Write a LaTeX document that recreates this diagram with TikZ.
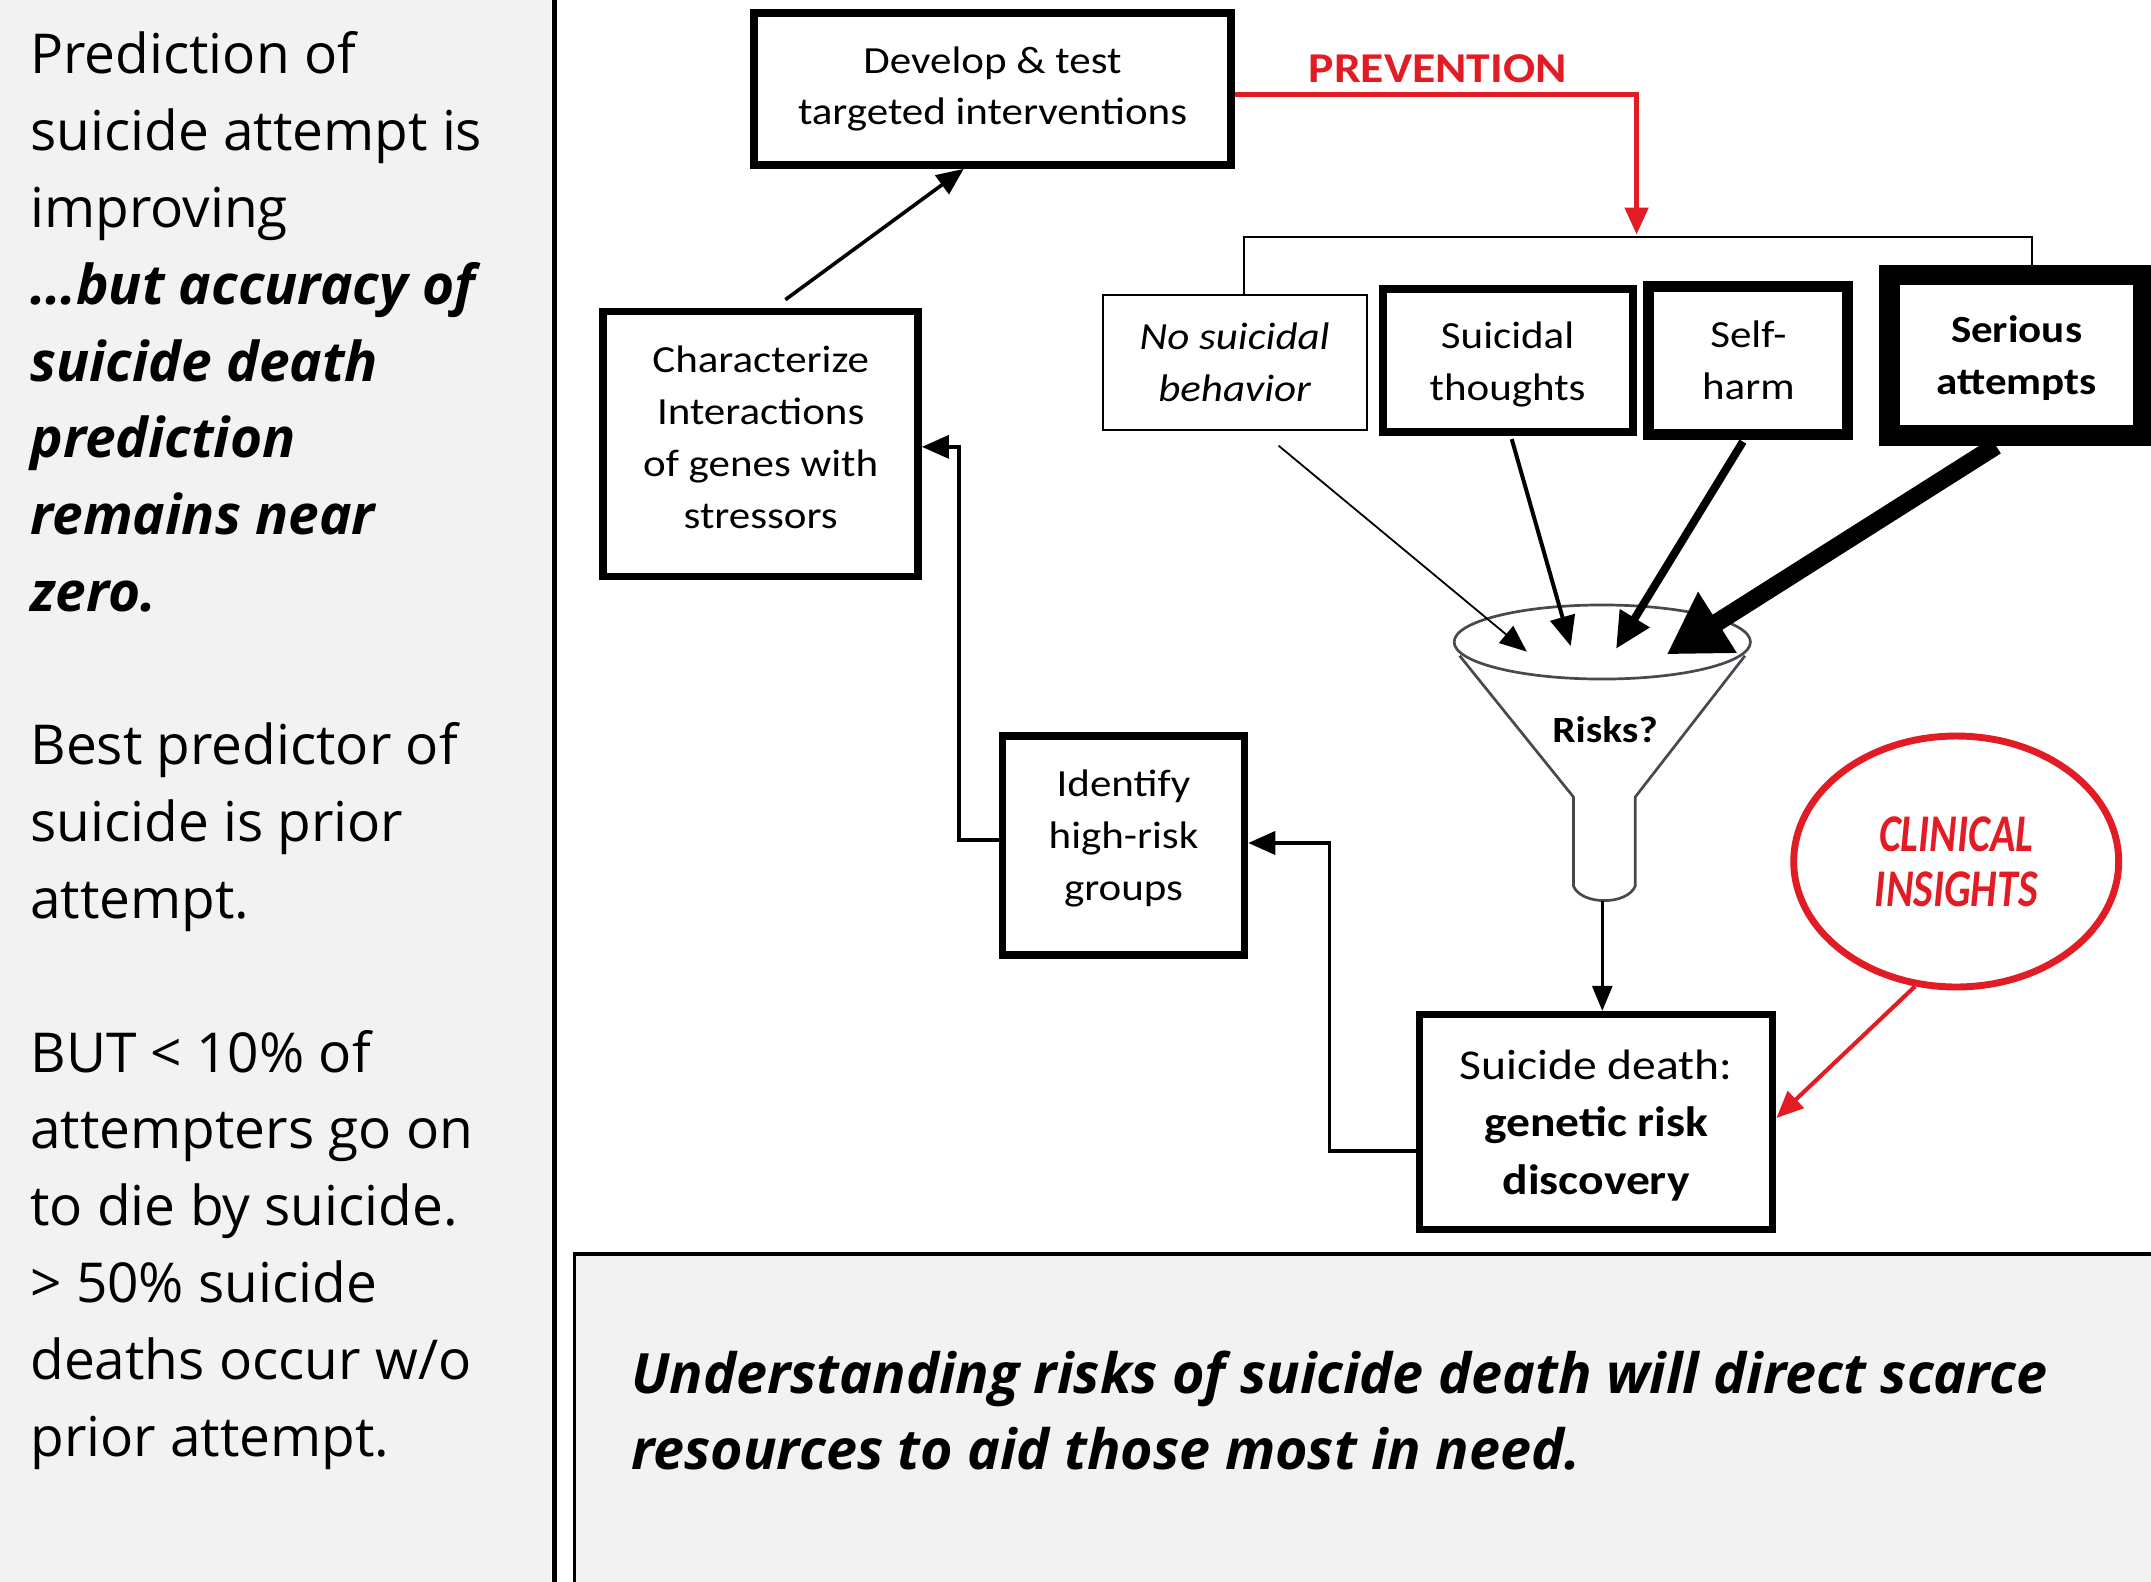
\documentclass[tikz,border=0pt]{standalone}
\usepackage{fontspec}
\setmainfont{Open Sans}
\newfontfamily\boxfont[FakeStretch=1.12]{Carlito}
\newfontfamily\insightfont{Carlito}
\usetikzlibrary{arrows.meta,calc,shapes.geometric}
\definecolor{panelgray}{HTML}{F2F2F2}
\definecolor{alertred}{RGB}{226,28,36}
\definecolor{funnelgray}{HTML}{464A4F}
\begin{document}
\begin{tikzpicture}[x=1.372pt,y=-1.372pt,
    stepbox/.style={draw,fill=white,line width=7.5pt,align=center,inner sep=0pt,
      font=\boxfont\fontsize{38.4}{52}\selectfont},
    conn/.style={line width=3.6pt,-{Triangle[length=27pt,width=23pt]}},
    redconn/.style={alertred,line width=4.8pt,-{Triangle[length=27pt,width=23pt]}}]
  \useasboundingbox (0,0) rectangle (1568,1153);
  \fill[white] (0,0) rectangle (1568,1153);
  \fill[panelgray] (0,0) rectangle (402,1153);
  \draw[line width=4.8pt] (404,0) -- (404,1153);
  \draw[fill=panelgray,line width=2.7pt] (419,914) rectangle (1580,1170);
  \draw[line width=4.5pt] (418,914) -- (1580,914);
  \node (leftnote) [anchor=north west,align=left,inner sep=0pt,
    font=\fontsize{55}{76.8}\selectfont] at (22,23)
    {Prediction of\\suicide attempt is\\improving\\
     \textbf{\textit{…but accuracy of}}\\
     \textbf{\textit{suicide death}}\\
     \textbf{\textit{prediction}}\\
     \textbf{\textit{remains near}}\\
     \textbf{\textit{zero.}}\\[76.8pt]
     Best predictor of\\suicide is prior\\attempt.\\[76.8pt]
     BUT < 10\% of\\attempters go on\\to die by suicide.\\
     > 50\% suicide\\deaths occur w/o\\prior attempt.};
  \node (bottomnote) [anchor=north west,align=left,inner sep=0pt,
    font=\bfseries\itshape\fontsize{55.6}{75.5}\selectfont] at (460,985)
    {Understanding risks of suicide death will direct scarce\\
     resources to aid those most in need.};
  \node (dev) [stepbox,minimum width=477pt,minimum height=152pt,
    font=\boxfont\fontsize{38.4}{51}\selectfont] at (723.5,65)
    {Develop \& test\\targeted interventions};
  \node (charact) [stepbox,minimum width=315pt,minimum height=265pt,text depth=13.7pt] at (554.5,323.75)
    {Characterize\\Interactions\\of genes with\\stressors};
  \node (ident) [stepbox,minimum width=242pt,minimum height=219pt,text depth=22pt] at (819,616.5)
    {Identify\\high-risk\\groups};
  \node (death) [stepbox,minimum width=353pt,minimum height=215pt,text depth=0pt,
    font=\boxfont\fontsize{42.5}{57.6}\selectfont] at (1163.5,818)
    {Suicide death:\\\textbf{genetic risk}\\\textbf{discovery}};
  \node (nobeh) [stepbox,line width=1.8pt,minimum width=264pt,minimum height=135pt,
    font=\boxfont\itshape\fontsize{38.4}{52}\selectfont] at (900,264)
    {No suicidal\\behavior};
  \node (thoughts) [stepbox,line width=8.2pt,minimum width=250pt,minimum height=143pt,text depth=0pt] at (1099,263)
    {Suicidal\\thoughts};
  \node (selfharm) [stepbox,line width=11pt,minimum width=199pt,minimum height=148pt] at (1274.5,263)
    {Self-\\harm};
  \node (serious) [stepbox,line width=20.6pt,minimum width=254pt,minimum height=160.5pt,text depth=0pt,
    font=\boxfont\bfseries\fontsize{38.4}{52}\selectfont] at (1470,259)
    {Serious\\attempts};
  \node (prevlabel) [text=alertred,font=\boxfont\bfseries\fontsize{42.5}{50}\selectfont] at (1048,50)
    {PREVENTION};
  \draw[funnelgray,line width=2.7pt] (1168,468) ellipse [x radius=108,y radius=27];
  \draw[funnelgray,line width=2.7pt,line join=round] (1064,478) -- (1147,581) -- (1147,646)
    .. controls (1153,660) and (1186,660) .. (1192,646) -- (1192,581) -- (1272,478);
  \node (risks) [font=\boxfont\bfseries\fontsize{37}{44}\selectfont] at (1170,532) {Risks?};
  \node (clin) [ellipse,draw=alertred,line width=6.9pt,minimum width=325pt,minimum height=251pt,
    inner sep=0pt,align=center,text=alertred,
    font=\insightfont\bfseries\itshape\fontsize{53}{55}\selectfont] at (1426,628)
    {\scalebox{0.79}[1]{CLINICAL}\\\scalebox{0.79}[1]{INSIGHTS}};
  \coordinate (fbot) at (1168,657);
  \coordinate (tip1) at (1113,475);
  \coordinate (tip2) at (1145,471);
  \coordinate (tip3) at (1178,473);
  \coordinate (tip4) at (1215,477);
  \coordinate (brl) at (907,173);
  \coordinate (brr) at (1481,173);
  \coordinate (prevtip) at (1193,171);
  \draw[line width=1.8pt] (brl |- nobeh.north) -- (brl) -- (brr) -- (brr |- serious.north);
  \draw[redconn] ($(dev.east)+(0,4)$) -| (prevtip);
  \draw[conn] ($(charact.north)+(18,-6)$) -- ($(dev.south)+(-21,0)$);
  \draw[line width=1.8pt,-{Triangle[length=27pt,width=22pt]}] ($(nobeh.south)+(32,11)$) -- (tip1);
  \draw[line width=4pt,-{Triangle[length=30pt,width=25pt]}] ($(thoughts.south)+(3,2)$) -- (tip2);
  \draw[line width=8pt,-{Triangle[length=36pt,width=33pt]}] ($(selfharm.south)+(-4,1)$) -- (tip3);
  \draw[line width=18pt,-{Triangle[length=60pt,width=68pt]}] ($(serious.south)+(-15,0)$) -- (tip4);
  \draw[line width=2.7pt,-{Triangle[length=25pt,width=20pt]}] (fbot) -- (fbot |- death.north);
  \draw[conn] ($(death.west)+(0,21)$) -- ++(-63,0) |- ($(ident.east)+(0,-2)$);
  \draw[conn] ($(ident.west)+(0,-4)$) -- ++(-29,0) |- ($(charact.east)+(0,2)$);
  \draw[redconn,line width=4.1pt] ($(clin.south)+(-30,-3)$) -- ($(death.east)+(0,-3)$);
\end{tikzpicture}
\end{document}
